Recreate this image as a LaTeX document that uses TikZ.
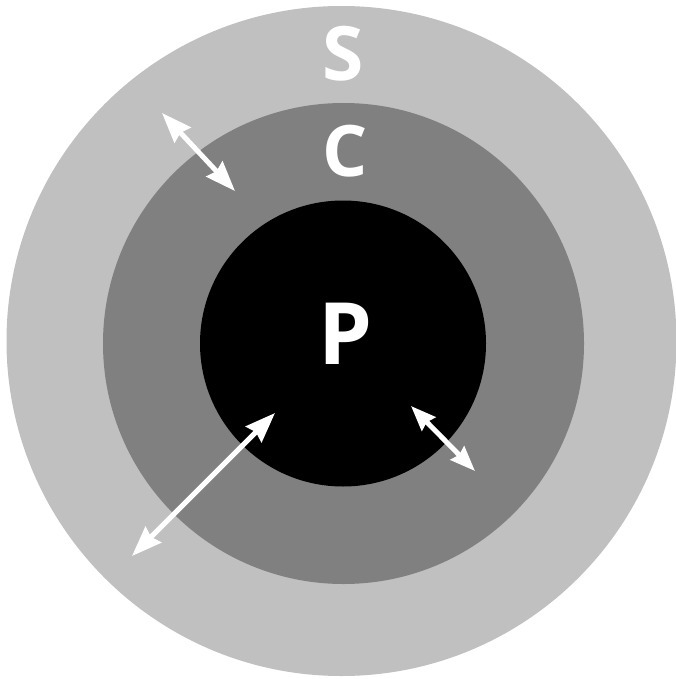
\documentclass[tikz,border=0pt]{standalone}
\usepackage{fontspec}
\setmainfont{Open Sans}
\usetikzlibrary{arrows.meta}
\begin{document}
\begin{tikzpicture}[x=1pt,y=-1pt,
  ring/.style={circle,draw=none,inner sep=0pt,minimum size=#1},
  lbl/.style={text=white,anchor=base,inner sep=0pt},
  dbl/.style={white,line width=5pt,{Stealth[length=30pt,width=22pt,inset=3pt]}-{Stealth[length=30pt,width=22pt,inset=3pt]}}
]
\useasboundingbox[fill=white] (0,0) rectangle (676,679);
\node[ring=670pt,fill={rgb,255:red,192;green,192;blue,192}] (S) at (341.5,341) {};
\node[ring=481pt,fill={rgb,255:red,128;green,128;blue,128}] (C) at (343.5,343.5) {};
\node[ring=286pt,fill=black] (P) at (343,343.5) {};
\node[lbl,font=\fontsize{75}{75}\bfseries\selectfont] (tS) at (343,81) {S};
\node[lbl,font=\fontsize{71}{71}\bfseries\selectfont] (tC) at (345,176) {C};
\node[lbl,font=\fontsize{86}{86}\bfseries\selectfont] (tP) at (345,364) {P};
\coordinate (a1) at (162,113);
\coordinate (a2) at (235,191);
\coordinate (b1) at (275,413);
\coordinate (b2) at (132,556);
\coordinate (c1) at (411,406);
\coordinate (c2) at (475,471);
\draw[dbl] (a1) -- (a2);
\draw[dbl] (b1) -- (b2);
\draw[dbl,{Stealth[length=25pt,width=19pt,inset=2.5pt]}-{Stealth[length=25pt,width=19pt,inset=2.5pt]}] (c1) -- (c2);
\end{tikzpicture}
\end{document}
